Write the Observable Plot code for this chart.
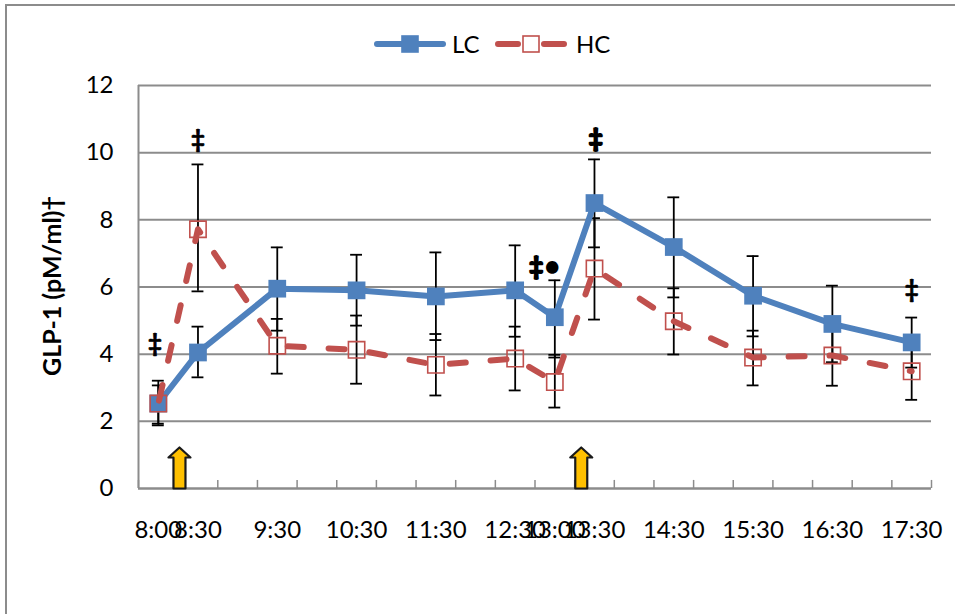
<!DOCTYPE html>
<html>
<head>
<meta charset="utf-8">
<script src="https://cdn.jsdelivr.net/npm/d3@7"></script>
<script src="https://cdn.jsdelivr.net/npm/@observablehq/plot@0.6"></script>
<style>
html,body{margin:0;padding:0;background:#fff;}
#wrap{position:relative;width:955px;height:614px;overflow:hidden;font-family:Lato,sans-serif;}
#wrap svg.plot{display:block;position:absolute;left:0;top:0;}
#border{position:absolute;left:5px;top:4px;width:2000px;height:2000px;border:2px solid #8c8c8c;box-sizing:border-box;}
.lg{position:absolute;font-size:24px;line-height:32px;color:#000;top:28px;}
.sw{position:absolute;top:32px;}
</style>
</head>
<body>
<div id="wrap"><div id="border"></div><div id="chart"></div><div id="legend"></div></div>
<script>
// Clock labels and minutes since midnight
const timeLabels = ["8:00","8:30","9:30","10:30","11:30","12:30","13:00","13:30","14:30","15:30","16:30","17:30"];
const minutes   = [480,510,570,630,690,750,780,810,870,930,990,1050];

const lcMean  = [2.53,4.05,5.95,5.90,5.72,5.90,5.10,8.50,7.19,5.74,4.90,4.35];
const lcUpper = [3.21,4.82,7.18,6.96,7.03,7.24,6.20,9.80,8.67,6.92,6.04,5.09];
const lcLower = [1.88,3.31,4.70,4.85,4.42,4.52,3.90,7.18,5.69,4.53,3.76,3.60];

const hcMean  = [2.53,7.72,4.25,4.13,3.68,3.87,3.17,6.55,4.98,3.90,3.96,3.49];
const hcUpper = [3.07,9.65,5.05,5.15,4.60,4.82,3.98,8.05,5.96,4.70,4.85,4.35];
const hcLower = [1.93,5.87,3.42,3.12,2.77,2.92,2.41,5.03,3.99,3.07,3.06,2.64];

const yTicks = [0,2,4,6,8,10,12];
const gridValues = [2,4,6,8,10,12];
const xEdges = [465,495,525,555,585,615,645,675,705,735,765,795,825,855,885,915,945,975,1005,1035,1065];

// Significance markers: label, minutes, value, ink weight
const markText = ["‡","‡","‡","•","‡","‡"];
const markX    = [477.5,510,766,778,811,1050];
const markY    = [4.3,10.37,6.6,6.6,10.4,5.9];
const markInk  = [0.7,0.7,2,2,2,0.7];

// Meal arrows
const arrowX = [496,800];
const arrowY = [0,0];

const blue = "#4F81BD", red = "#C0504D", grid = "#8c8c8c";

const rows = (mean,up,lo) => minutes.map((t,i)=>({t,mean:mean[i],up:up[i],lo:lo[i]}));
const lc = rows(lcMean,lcUpper,lcLower);
const hc = rows(hcMean,hcUpper,hcLower);
const marks = markText.map((s,i)=>({s,x:markX[i],y:markY[i],ink:markInk[i]}));
const arrows = arrowX.map((x,i)=>({x,y:arrowY[i]}));

const capHalf = 4.5;
const errorMarks = data => [
  Plot.ruleX(data,{x:"t",y1:"lo",y2:"up",stroke:"#000",strokeWidth:1.8}),
  Plot.ruleY(data,{y:"up",x1:d=>d.t-capHalf,x2:d=>d.t+capHalf,stroke:"#000",strokeWidth:1.8}),
  Plot.ruleY(data,{y:"lo",x1:d=>d.t-capHalf,x2:d=>d.t+capHalf,stroke:"#000",strokeWidth:1.8})
];

const blockArrow = {
  draw(ctx,l){
    const s=6,h=10,w=11;
    ctx.moveTo(-s,0);ctx.lineTo(-s,-l+h);ctx.lineTo(-w,-l+h);ctx.lineTo(0,-l);
    ctx.lineTo(w,-l+h);ctx.lineTo(s,-l+h);ctx.lineTo(s,0);ctx.closePath();
  }
};

const chart = Plot.plot({
  width:955,height:614,
  marginLeft:138,marginRight:24,marginTop:85,marginBottom:126,
  style:{fontFamily:"Lato, sans-serif",background:"transparent"},
  x:{domain:[465,1065],label:null},
  y:{domain:[0,12],label:null},
  marks:[
    Plot.ruleY(gridValues,{stroke:grid,strokeWidth:2}),
    Plot.ruleY([0],{stroke:grid,strokeWidth:2.5}),
    Plot.ruleX([465],{stroke:grid,strokeWidth:2}),
    Plot.ruleX(xEdges,{y1:0,y2:0.24,stroke:grid,strokeWidth:1.5}),
    Plot.axisY({ticks:yTicks,tickSize:0,tickPadding:25,fontSize:24,label:null,tickFormat:d=>String(d),color:"#000"}),
    Plot.axisX({ticks:minutes,tickSize:0,tickPadding:32,fontSize:24,label:null,tickFormat:d=>timeLabels[minutes.indexOf(d)]}),
    Plot.text(["GLP-1 (pM/ml)†"],{frameAnchor:"left",dx:-86,dy:-1,rotate:-90,textAnchor:"middle",fontWeight:"bold",fontSize:25,fill:"#000"}),
    ...errorMarks(lc),
    ...errorMarks(hc),
    Plot.line(lc,{x:"t",y:"mean",stroke:blue,strokeWidth:6}),
    Plot.dot(lc,{x:"t",y:"mean",symbol:"square",r:10,fill:blue,stroke:null}),
    Plot.line(hc,{x:"t",y:"mean",stroke:red,strokeWidth:6,strokeDasharray:"16,24.9",strokeDashoffset:-3,strokeLinecap:"round"}),
    Plot.dot(hc,{x:"t",y:"mean",symbol:"square",r:9.2,fill:"none",stroke:red,strokeWidth:1.6}),
    Plot.text(marks,{x:"x",y:"y",text:"s",fontSize:24,fontWeight:"bold",fill:"#000",stroke:"#000",strokeWidth:"ink"}),
    Plot.vector(arrows,{x:"x",y:"y",length:41,rotate:0,anchor:"start",shape:blockArrow,fill:"#FFC000",stroke:"#1a1a1a",strokeWidth:2.2})
  ]
});
chart.classList.add("plot");
document.getElementById("chart").append(chart);

// Legend
const legend=document.getElementById("legend");
const ns="http://www.w3.org/2000/svg";
function swatch(left,color,dash,fill){
  const s=document.createElementNS(ns,"svg");
  s.setAttribute("class","sw");s.style.left=left+"px";
  s.setAttribute("width","72");s.setAttribute("height","24");
  s.innerHTML=`<line x1="3" x2="69" y1="12" y2="12" stroke="${color}" stroke-width="6" stroke-linecap="round" ${dash?'stroke-dasharray="20,26,20"':''}/>`+
    `<rect x="28" y="4" width="16" height="16" fill="${fill}" stroke="${color}" stroke-width="1.6"/>`;
  legend.append(s);
}
function label(left,name){
  const t=document.createElement("div");t.className="lg";t.style.left=left+"px";t.textContent=name;legend.append(t);
}
swatch(374,blue,false,blue);label(452,"LC");
swatch(495,red,true,"none");label(576,"HC");
</script>
</body>
</html>
